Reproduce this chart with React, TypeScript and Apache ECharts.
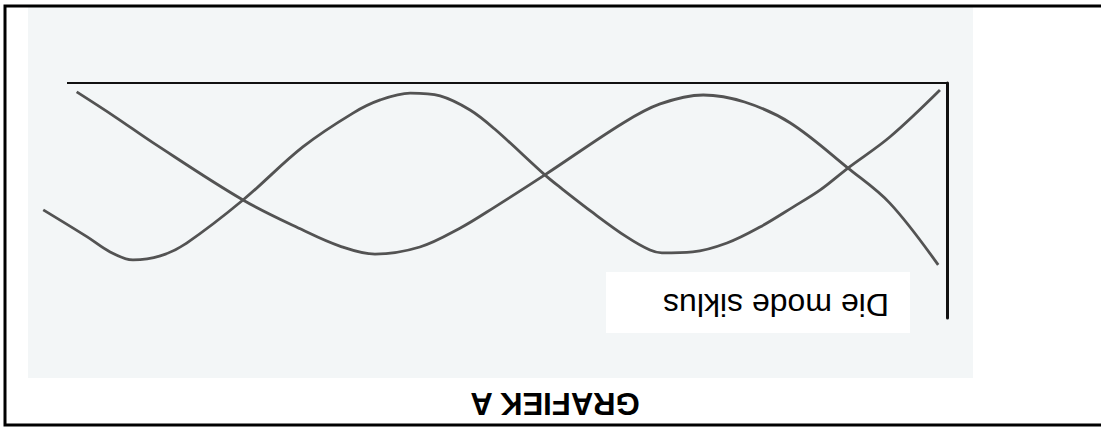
import React, { useEffect, useRef } from "react";
import * as echarts from "echarts";

// Chart is shown rotated by 180°: time runs right-to-left, values top-to-bottom.
const titleText = "GRAFIEK A";
const labelText = "Die mode siklus";

// Curve A (starts high on the value axis near the origin)
const curveAX = [98.9, 94.5, 90.2, 80.0, 73.2, 69.0, 65.0, 59.9, 55.3, 51.4, 45.7, 36.8, 32.6, 27.7, 23.0, 17.8, 11.25, 6.5, 1.0];
const curveAY = [3.8, 14.5, 25.5, 49.8, 62.6, 69.4, 72.8, 69.8, 61.7, 52.8, 39.1, 17.0, 8.9, 5.1, 8.1, 17.0, 36.2, 51.1, 77.4];

// Curve B (starts at the origin)
const curveBX = [102.7, 97.7, 95.1, 92.5, 89.4, 86.4, 80.0, 73.2, 67.5, 64.4, 61.0, 57.6, 54.2, 51.4, 45.7, 44.0, 40.2, 36.4, 33.75, 32.4, 28.9, 25.0, 21.25, 17.5, 14.4, 11.25, 6.5, 0.8];
const curveBY = [54.0, 65.5, 71.9, 75.3, 73.6, 68.1, 49.8, 27.2, 12.8, 7.2, 4.3, 5.5, 11.5, 19.6, 39.1, 44.3, 55.3, 65.5, 71.1, 72.3, 71.9, 68.1, 61.3, 52.8, 45.5, 36.2, 23.0, 3.0];

// Axis extents
const xAxisEnd = 100; // where the drawn time axis ends
const xMin = 0;
const xMax = 104;
const yMin = 0;
const yMax = 100;

export default function App() {
  const ref = useRef<HTMLDivElement>(null);

  useEffect(() => {
    if (!ref.current) return;
    const chart = echarts.init(ref.current, undefined, { renderer: "svg" });
    const dataA = curveAX.map((x, i) => [x, curveAY[i]]);
    const dataB = curveBX.map((x, i) => [x, curveBY[i]]);
    const lineStyle = { color: "#535353", width: 2.8 };

    chart.setOption({
      animation: false,
      backgroundColor: "#ffffff",
      grid: { left: 31.8, top: 83, width: 915.2, height: 235 },
      xAxis: {
        type: "value",
        min: xMin,
        max: xMax,
        inverse: true,
        position: "top",
        axisLine: { show: false },
        axisTick: { show: false },
        axisLabel: { show: false },
        splitLine: { show: false },
      },
      yAxis: {
        type: "value",
        min: yMin,
        max: yMax,
        inverse: true,
        position: "right",
        axisLine: { show: true, onZero: false, lineStyle: { color: "#111", width: 3 } },
        axisTick: { show: false },
        axisLabel: { show: false },
        splitLine: { show: false },
      },
      graphic: [
        {
          type: "rect",
          z: -10,
          shape: { x: 28, y: 7, width: 945, height: 371 },
          style: { fill: "#f3f6f7" },
          silent: true,
        },
        {
          type: "rect",
          z: -5,
          shape: { x: 606, y: 272, width: 304, height: 61 },
          style: { fill: "#ffffff" },
          silent: true,
        },
        {
          type: "text",
          x: 776,
          y: 305,
          rotation: Math.PI,
          style: {
            text: labelText,
            font: "32px 'Liberation Sans', Arial, sans-serif",
            fill: "#000",
            align: "center",
            verticalAlign: "middle",
          },
        },
        {
          type: "text",
          x: 555,
          y: 403,
          rotation: Math.PI,
          style: {
            text: titleText,
            font: "bold 31px 'Liberation Sans', Arial, sans-serif",
            fill: "#000",
            align: "center",
            verticalAlign: "middle",
          },
        },
        {
          type: "rect",
          z: 50,
          shape: { x: 5, y: 6, width: 1100, height: 419 },
          style: { fill: "none", stroke: "#000", lineWidth: 3 },
          silent: true,
        },
      ],
      series: [
        {
          name: "A",
          type: "line",
          data: dataA,
          smooth: 0.35,
          showSymbol: false,
          clip: false,
          lineStyle,
          markLine: {
            silent: true,
            symbol: "none",
            label: { show: false },
            lineStyle: { color: "#111", width: 2, type: "solid" },
            data: [[{ coord: [xAxisEnd, yMin] }, { coord: [xMin, yMin] }]],
          },
        },
        {
          name: "B",
          type: "line",
          data: dataB,
          smooth: 0.35,
          showSymbol: false,
          clip: false,
          lineStyle,
        },
      ],
    });
    return () => chart.dispose();
  }, []);

  return (
    <div
      ref={ref}
      style={{ position: "fixed", left: 0, top: 0, width: 1101, height: 429 }}
    />
  );
}
